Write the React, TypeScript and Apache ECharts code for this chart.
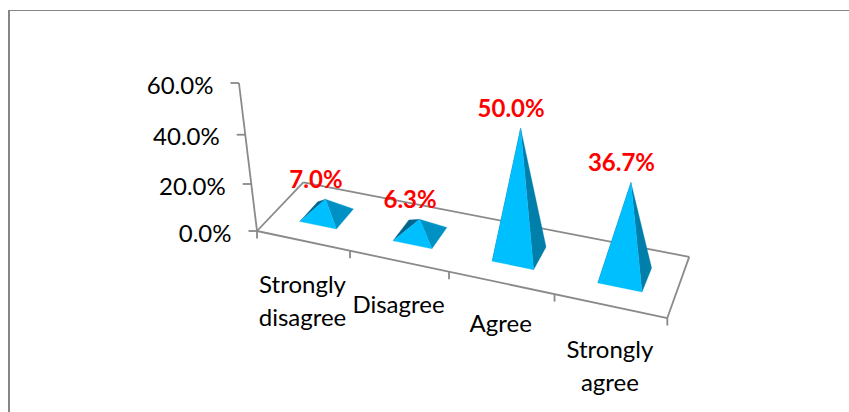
import React, { useEffect, useRef } from "react";
import * as echarts from "echarts";

const categories = ["Strongly\ndisagree", "Disagree", "Agree", "Strongly\nagree"];
const values = [7.0, 6.3, 50.0, 36.7];
const yTicks = [0, 20, 40, 60];

const W = 849;
const H = 412;
const FONT = "Lato, 'Open Sans', sans-serif";
const GRAY = "#8a8a8a";

// perspective camera: unit cube (across, value, depth) -> screen
const CAM = {
  a: [329.9, -34.6, 67.5, 257],
  b: [48.7, -153.75, -35.8, 231],
  c: [-0.1205, -0.0693, 0.07, 1],
};

function project(api: any, cat: number, value: number, depth: number): number[] {
  const p = api.coord([cat, value]);
  const u = p[0] / W;
  const v = 1 - p[1] / H;
  const d = CAM.c[0] * u + CAM.c[1] * v + CAM.c[2] * depth + CAM.c[3];
  return [
    (CAM.a[0] * u + CAM.a[1] * v + CAM.a[2] * depth + CAM.a[3]) / d,
    (CAM.b[0] * u + CAM.b[1] * v + CAM.b[2] * depth + CAM.b[3]) / d,
  ];
}

const seg = (a: number[], b: number[]) => ({
  type: "line",
  shape: { x1: a[0], y1: a[1], x2: b[0], y2: b[1] },
  style: { stroke: GRAY, lineWidth: 1.8, fill: "none" },
});

const frameRender = (_: any, api: any) => {
  const children: any[] = [];
  const p0 = project(api, 0, 0, 0);
  const p1 = project(api, 4, 0, 0);
  const p2 = project(api, 4, 0, 1);
  const p3 = project(api, 0, 0, 1);
  children.push(seg(p0, p1), seg(p1, p2), seg(p2, p3), seg(p3, p0));
  children.push(seg(p0, project(api, 0, 60, 0)));
  yTicks.forEach((t) => {
    const q = project(api, 0, t, 0);
    children.push(seg([q[0] - 8.5, q[1]], q));
    children.push({
      type: "text",
      style: {
        x: q[0] - 25.5,
        y: q[1] + 1,
        text: t.toFixed(1) + "%",
        fill: "#000000",
        font: `400 24px ${FONT}`,
        align: "right",
        verticalAlign: "middle",
      },
    });
  });
  const fronts = [0, 1, 2, 3, 4].map((i) => project(api, i, 0, 0));
  fronts.forEach((f) => children.push(seg(f, [f[0], f[1] + 7.5])));
  categories.forEach((c, i) => {
    const mx = (fronts[i][0] + fronts[i + 1][0]) / 2;
    const my = (fronts[i][1] + fronts[i + 1][1]) / 2;
    const singleLineRaise = c === "Agree" ? 3 : 0;
    children.push({
      type: "text",
      style: {
        x: mx - 1,
        y: my + 26 - singleLineRaise,
        text: c,
        fill: "#000000",
        font: `400 24px ${FONT}`,
        lineHeight: 33,
        align: "center",
        verticalAlign: "top",
      },
    });
  });
  return { type: "group", children };
};

const pyramidRender = (_: any, api: any) => {
  const c = api.value(0) + 0.515;
  const v = api.value(1);
  const h = 0.2;
  const fl = project(api, c - h, 0, 0.3);
  const fr = project(api, c + h, 0, 0.3);
  const br = project(api, c + h, 0, 0.7);
  const bl = project(api, c - h, 0, 0.7);
  const apex = project(api, c, v, 0.5);
  const face = (pts: number[][], fill: string) => ({
    type: "polygon",
    shape: { points: pts },
    style: { fill, stroke: fill, lineWidth: 0.3 },
  });
  return {
    type: "group",
    children: [
      face([fl, bl, apex], "#00648f"),
      face([fr, br, apex], v > 20 ? "#007fab" : "#0091c4"),
      face([fl, fr, apex], "#00bfff"),
    ],
  };
};

const labelRender = (_: any, api: any) => {
  const c = api.value(0) + 0.515;
  const v = api.value(1);
  const apex = project(api, c, v, 0.5);
  return {
    type: "text",
    style: {
      x: apex[0] - 9.5,
      y: apex[1] - 21,
      text: v.toFixed(1) + "%",
      fill: "#ff0000",
      font: `700 24px ${FONT}`,
      align: "center",
      verticalAlign: "middle",
    },
  };
};

export default function App() {
  const ref = useRef<HTMLDivElement>(null);
  useEffect(() => {
    const chart = echarts.init(ref.current!, null, { renderer: "svg" });
    const rows = values.map((v, i) => [i, v]);
    chart.setOption({
      animation: false,
      backgroundColor: "#ffffff",
      grid: { left: 0, right: 0, top: 0, bottom: 0 },
      xAxis: { type: "value", min: 0, max: 4, show: false },
      yAxis: { type: "value", min: 0, max: 60, interval: 20, show: false },
      graphic: [
        { type: "line", shape: { x1: 8, y1: 10.5, x2: 849, y2: 10.5 }, style: { stroke: "#868686", lineWidth: 1 } },
        { type: "line", shape: { x1: 9, y1: 10, x2: 9, y2: 412 }, style: { stroke: "#868686", lineWidth: 2 } },
      ],
      series: [
        { type: "custom", data: [[0, 0]], renderItem: frameRender, encode: { x: 0, y: 1 }, clip: false, silent: true, z: 1 },
        { type: "custom", data: rows, renderItem: pyramidRender, encode: { x: 0, y: 1 }, clip: false, silent: true, z: 2 },
        { type: "custom", data: rows, renderItem: labelRender, encode: { x: 0, y: 1 }, clip: false, silent: true, z: 3 },
      ],
    });
    return () => chart.dispose();
  }, []);
  return <div ref={ref} style={{ position: "absolute", left: 0, top: 0, width: W, height: H }} />;
}
